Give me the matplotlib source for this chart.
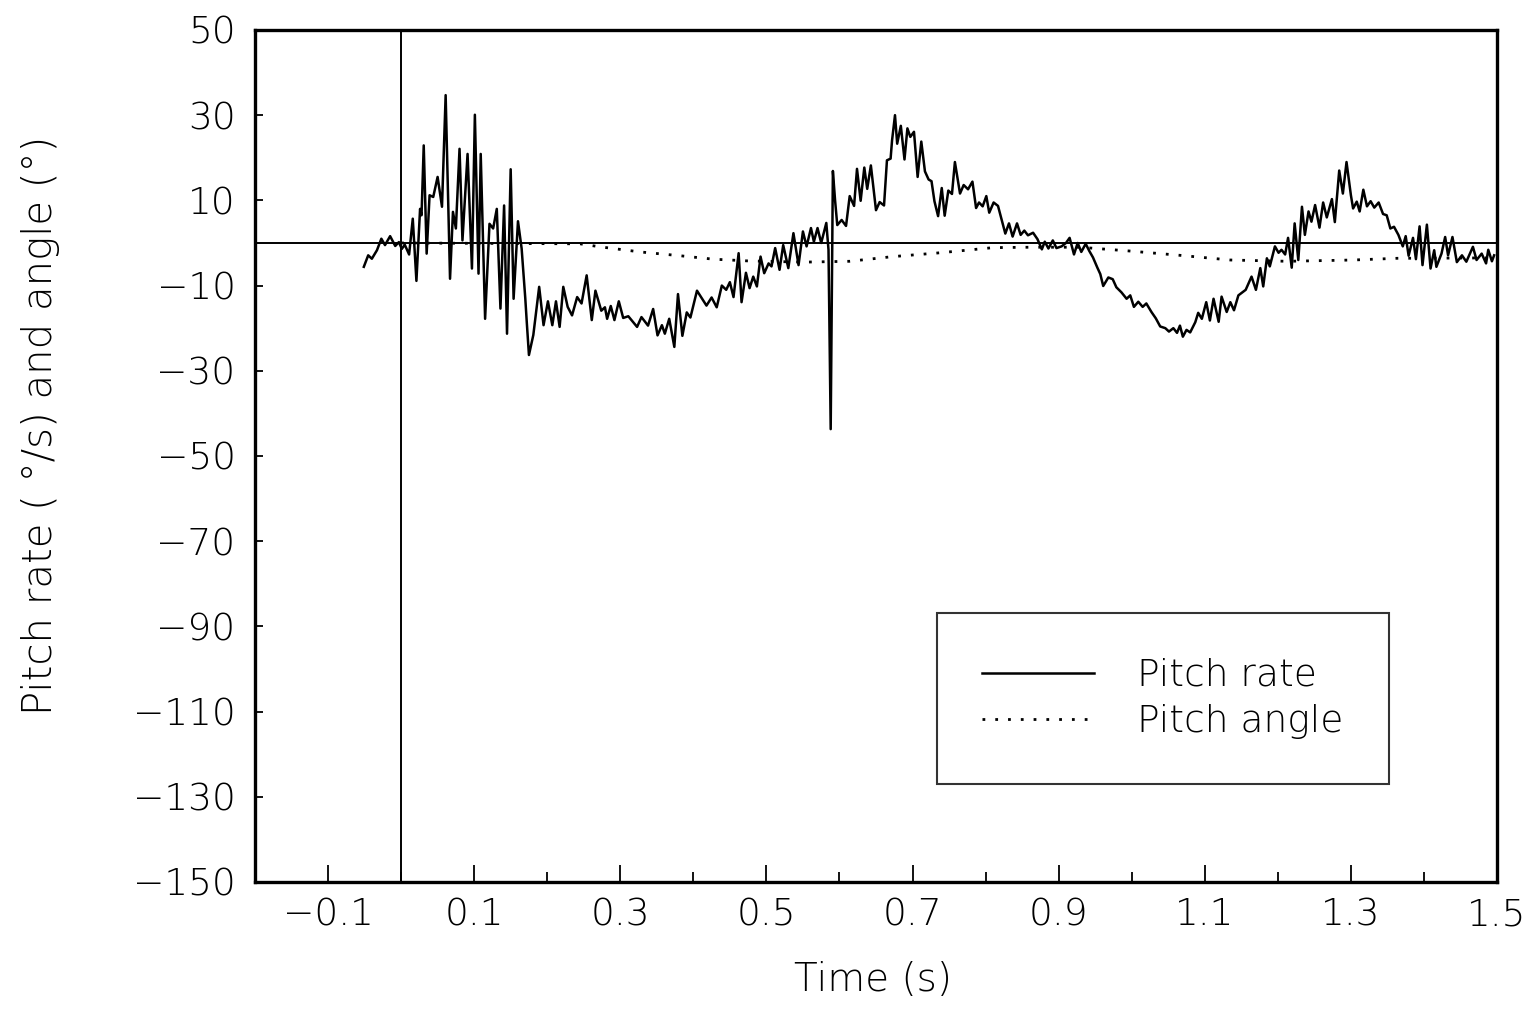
import matplotlib
matplotlib.use("Agg")
import matplotlib.pyplot as plt
from matplotlib.ticker import MultipleLocator, FixedLocator

# Pitch rate (deg/s) traced over time (s)
rate_t = [
    -0.051, -0.045, -0.040, -0.033, -0.027, -0.022, -0.015, -0.008, -0.003, 0.001,
    0.005, 0.011, 0.016, 0.021, 0.026, 0.028, 0.031, 0.035, 0.039, 0.044,
    0.050, 0.056, 0.061, 0.067, 0.071, 0.075, 0.080, 0.084, 0.091, 0.097,
    0.101, 0.106, 0.109, 0.115, 0.121, 0.126, 0.131, 0.136, 0.141, 0.145,
    0.150, 0.154, 0.160, 0.165, 0.170, 0.172, 0.175, 0.181, 0.189, 0.195,
    0.201, 0.207, 0.212, 0.217, 0.222, 0.228, 0.234, 0.241, 0.247, 0.254,
    0.261, 0.266, 0.274, 0.279, 0.282, 0.287, 0.292, 0.298, 0.304, 0.311,
    0.323, 0.329, 0.338, 0.345, 0.351, 0.357, 0.361, 0.367, 0.374, 0.379,
    0.385, 0.391, 0.396, 0.405, 0.411, 0.418, 0.425, 0.432, 0.439, 0.445,
    0.450, 0.455, 0.462, 0.466, 0.472, 0.477, 0.482, 0.487, 0.492, 0.497,
    0.503, 0.507, 0.512, 0.518, 0.523, 0.530, 0.537, 0.544, 0.550, 0.555,
    0.561, 0.565, 0.570, 0.575, 0.582, 0.585, 0.588, 0.591, 0.594, 0.597,
    0.603, 0.609, 0.614, 0.620, 0.624, 0.629, 0.634, 0.638, 0.643, 0.650,
    0.655, 0.661, 0.665, 0.670, 0.672, 0.676, 0.679, 0.684, 0.689, 0.693,
    0.697, 0.702, 0.707, 0.712, 0.717, 0.722, 0.726, 0.730, 0.735, 0.740,
    0.744, 0.749, 0.754, 0.758, 0.765, 0.770, 0.776, 0.782, 0.787, 0.791,
    0.796, 0.801, 0.805, 0.811, 0.817, 0.827, 0.832, 0.837, 0.843, 0.848,
    0.853, 0.858, 0.865, 0.871, 0.877, 0.881, 0.886, 0.892, 0.897, 0.904,
    0.910, 0.915, 0.921, 0.926, 0.931, 0.937, 0.942, 0.947, 0.953, 0.957,
    0.961, 0.968, 0.974, 0.979, 0.986, 0.993, 0.998, 1.003, 1.009, 1.015,
    1.020, 1.027, 1.033, 1.039, 1.046, 1.051, 1.057, 1.062, 1.066, 1.070,
    1.075, 1.080, 1.087, 1.091, 1.096, 1.102, 1.107, 1.112, 1.119, 1.123,
    1.130, 1.135, 1.140, 1.146, 1.156, 1.164, 1.170, 1.176, 1.180, 1.185,
    1.189, 1.196, 1.201, 1.205, 1.210, 1.214, 1.219, 1.223, 1.228, 1.233,
    1.237, 1.242, 1.246, 1.251, 1.257, 1.262, 1.267, 1.274, 1.278, 1.284,
    1.289, 1.294, 1.300, 1.303, 1.308, 1.312, 1.317, 1.322, 1.327, 1.332,
    1.338, 1.344, 1.349, 1.354, 1.359, 1.365, 1.371, 1.375, 1.379, 1.385,
    1.389, 1.394, 1.398, 1.404, 1.409, 1.414, 1.417, 1.424, 1.429, 1.433,
    1.439, 1.445, 1.452, 1.458, 1.467, 1.472, 1.479, 1.485, 1.488, 1.493,
    1.496,
]
rate_v = [
    -5.6, -2.9, -3.7, -1.7, 1.0, -0.5, 1.6, -0.7, 0.2, -1.4,
    -0.4, -2.7, 5.7, -8.9, 8.0, 6.5, 22.9, -2.5, 11.2, 10.8,
    15.5, 8.5, 34.7, -8.4, 7.3, 3.4, 22.1, 0.6, 20.9, -6.0,
    30.1, -7.2, 20.9, -17.8, 4.5, 3.4, 8.0, -15.4, 8.8, -21.3,
    17.3, -13.1, 5.1, -1.3, -13.0, -18.5, -26.3, -21.6, -10.3, -19.3,
    -13.7, -19.3, -13.7, -19.7, -10.3, -15.0, -17.0, -12.7, -14.2, -7.6,
    -18.1, -11.2, -15.9, -15.1, -17.8, -14.8, -18.1, -13.7, -17.6, -17.2,
    -19.7, -17.4, -19.4, -15.5, -21.7, -19.3, -21.3, -17.8, -24.4, -12.0,
    -21.8, -16.3, -17.5, -11.2, -12.8, -14.7, -12.8, -15.1, -10.0, -11.0,
    -9.2, -12.7, -2.4, -13.9, -7.0, -10.6, -7.9, -10.2, -3.2, -7.1,
    -4.8, -5.5, -1.2, -6.3, -0.5, -5.9, 2.3, -5.2, 2.7, -0.8,
    3.5, 0.3, 3.5, 0.0, 4.7, -1.6, -43.7, 16.9, 10.0, 4.2,
    5.4, 4.0, 11.0, 8.7, 17.4, 9.9, 17.7, 12.7, 18.2, 7.7,
    9.6, 8.8, 19.4, 19.8, 24.1, 30.0, 23.3, 27.5, 19.6, 26.9,
    24.9, 26.1, 15.5, 23.8, 16.8, 14.9, 14.5, 9.8, 6.3, 12.9,
    6.4, 12.3, 11.5, 19.0, 11.6, 13.6, 12.6, 14.4, 8.2, 9.5,
    8.6, 11.0, 7.1, 9.5, 8.7, 2.2, 4.6, 1.5, 4.6, 1.9,
    2.9, 1.8, 2.4, 0.9, -1.5, 0.3, -1.3, 0.6, -1.2, -0.8,
    0.0, 1.2, -2.7, 0.0, -2.1, -0.2, -1.9, -3.4, -5.8, -7.3,
    -10.1, -8.1, -8.5, -10.4, -11.6, -13.1, -12.3, -15.0, -13.8, -15.0,
    -14.2, -16.2, -17.7, -19.6, -20.0, -20.8, -20.0, -21.1, -19.4, -22.0,
    -20.4, -21.0, -18.6, -16.4, -17.8, -13.9, -18.2, -13.1, -18.5, -12.6,
    -16.2, -13.9, -15.8, -12.3, -11.0, -7.9, -11.0, -5.9, -10.2, -3.6,
    -5.5, -0.8, -2.3, -1.6, -2.7, 1.2, -5.8, 4.6, -4.0, 8.5,
    1.9, 7.4, 5.0, 8.9, 3.6, 9.5, 6.0, 10.3, 4.9, 17.0,
    11.6, 19.0, 11.2, 8.1, 9.7, 7.4, 12.5, 8.6, 9.8, 8.3,
    9.5, 6.8, 6.5, 3.4, 3.8, 1.9, -0.8, 1.6, -3.0, 1.2,
    -3.8, 3.9, -5.2, 4.3, -6.0, -1.7, -5.6, -2.5, 1.4, -2.9,
    1.4, -4.5, -2.9, -4.4, -0.9, -4.0, -2.5, -4.8, -1.6, -4.3,
    -2.9,
]

# Pitch angle (deg) over time (s)
angle_t = [0.0, 0.245, 0.272, 0.327, 0.382, 0.427, 0.473, 0.550, 0.614, 0.673,
           0.738, 0.810, 0.861, 0.929, 0.998, 1.066, 1.135, 1.213, 1.303, 1.363, 1.5]
angle_v = [0.0, -0.2, -0.9, -2.1, -3.0, -3.8, -4.2, -4.5, -4.3, -3.2,
           -2.3, -1.1, -1.0, -1.0, -1.9, -2.9, -4.0, -4.3, -4.0, -3.6, -3.5]

x_labels = ["\u22120.1", "0.1", "0.3", "0.5", "0.7", "0.9", "1.1", "1.3", "1.5"]
x_label_pos = [-0.1, 0.1, 0.3, 0.5, 0.7, 0.9, 1.1, 1.3, 1.5]
y_label_pos = [50, 30, 10, -10, -30, -50, -70, -90, -110, -130, -150]

plt.rcParams["font.family"] = ["DejaVu Sans"]
plt.rcParams["font.weight"] = 200
plt.rcParams["axes.labelweight"] = 200
FS = 27

fig = plt.figure(figsize=(15.34, 10.09), dpi=100)
ax = fig.add_axes([0.1662, 0.1259, 0.8097, 0.8444])

ax.axhline(0, color="black", lw=1.4, zorder=2)
ax.axvline(0, color="black", lw=1.4, zorder=2)

ax.plot(rate_t, rate_v, color="black", lw=1.8, solid_joinstyle="round",
        label="Pitch rate", zorder=3)
ax.plot(angle_t, angle_v, color="black", lw=2.0, linestyle=(0, (1, 3.6)),
        label="Pitch angle", zorder=3)

ax.set_xlim(-0.2, 1.5)
ax.set_ylim(-150, 50)

ax.xaxis.set_major_locator(FixedLocator(x_label_pos))
ax.set_xticklabels(x_labels)
ax.xaxis.set_minor_locator(FixedLocator([0.0, 0.2, 0.4, 0.6, 0.8, 1.0, 1.2, 1.4]))
ax.yaxis.set_major_locator(FixedLocator(y_label_pos))
ax.yaxis.set_minor_locator(MultipleLocator(20, offset=10))

ax.tick_params(axis="x", which="major", direction="in", length=12, width=1.3,
               labelsize=FS, pad=11)
ax.tick_params(axis="x", which="minor", direction="in", length=7, width=1.3)
ax.tick_params(axis="y", which="both", direction="in", length=6, width=1.3,
               labelsize=FS, pad=14)
ax.tick_params(top=False, right=False, which="both")

for s in ax.spines.values():
    s.set_linewidth(2.4)

ax.set_xlabel("Time (s)", fontsize=28)
ax.xaxis.set_label_coords(0.4976, -0.093)
ax.set_ylabel("Pitch rate ( \u00b0/s) and angle (\u00b0)", fontsize=29)
ax.yaxis.set_label_coords(-0.157, 0.536)

leg = ax.legend(loc="upper left", bbox_to_anchor=(0.549, 0.316), fontsize=FS,
                frameon=True, fancybox=False, edgecolor="black",
                handlelength=3.0, handletextpad=1.15, borderpad=1.2,
                labelspacing=0.3, borderaxespad=0)
leg.get_frame().set_linewidth(1.5)

fig.savefig("out.png", dpi=100, facecolor="white")
